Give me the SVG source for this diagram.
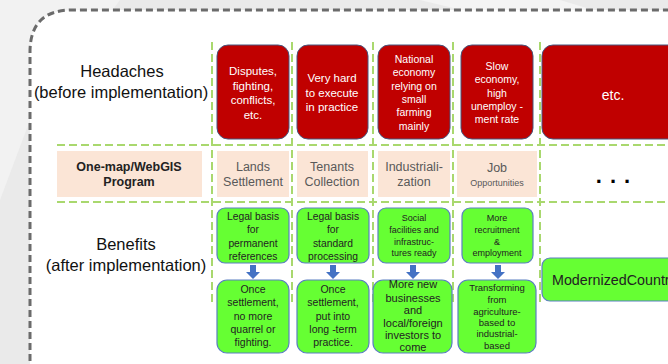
<svg xmlns="http://www.w3.org/2000/svg" width="668" height="364" viewBox="0 0 668 364">
<defs>
<style>
.bg{fill:#eaeaea}
.frame{fill:#ffffff;stroke:#6b6b6b;stroke-width:3;stroke-dasharray:7,4}
.grid{stroke:#a9d86e;stroke-width:2;stroke-dasharray:8,4;fill:none}
.red{fill:#c00000;stroke:#46567e;stroke-width:1}
.pink{fill:#fbe5d6}
.green{fill:#66ff33;stroke:#5b7fc1;stroke-width:1.2}
.arrow{fill:#4472c4}
text{font-family:"Liberation Sans","Open Sans",Arial,sans-serif;text-anchor:middle}
.wt{fill:#ffffff;font-size:11.5px}
.lbl{fill:#111;font-size:16.5px}
.pt{fill:#595959;font-size:12.5px}
.gt{fill:#222;font-size:10.3px}
</style>
</defs>
<rect class="bg" x="0" y="0" width="668" height="364"/>
<polygon points="0,0 120,0 30,120 0,200" fill="#f2f2f2"/>
<polygon points="420,0 560,0 600,12 470,12" fill="#f4f4f4"/>
<path class="frame" d="M30,372 V52 Q30,10 72,10 H680 V372 Z"/>

<g id="grid">
<line class="grid" x1="57" y1="145" x2="668" y2="145"/>
<line class="grid" x1="57" y1="202" x2="668" y2="202"/>
<line class="grid" x1="212" y1="42" x2="212" y2="305"/>
<line class="grid" x1="292" y1="42" x2="292" y2="305"/>
<line class="grid" x1="373" y1="42" x2="373" y2="305"/>
<line class="grid" x1="453" y1="42" x2="453" y2="305"/>
<line class="grid" x1="540" y1="42" x2="540" y2="305"/>
</g>

<g id="labels">
<text class="lbl" x="122" y="77">Headaches</text>
<text class="lbl" x="121" y="98">(before implementation)</text>
<text class="lbl" x="126" y="250">Benefits</text>
<text class="lbl" x="126" y="271">(after implementation)</text>
</g>

<g id="h1"><rect class="red" x="217" y="45" width="72" height="94" rx="11"/>
<text class="wt"><tspan x="253" y="75">Disputes,</tspan><tspan x="253" y="90">fighting,</tspan><tspan x="253" y="104">conflicts,</tspan><tspan x="253" y="119">etc.</tspan></text></g>
<g id="h2"><rect class="red" x="297" y="45" width="71" height="94" rx="11"/>
<text class="wt"><tspan x="332" y="82">Very hard</tspan><tspan x="332" y="97">to execute</tspan><tspan x="332" y="111">in practice</tspan></text></g>
<g id="h3"><rect class="red" x="378" y="45" width="72" height="94" rx="11"/>
<text class="wt" style="font-size:10.5px"><tspan x="414" y="63">National</tspan><tspan x="414" y="76">economy</tspan><tspan x="414" y="90">relying on</tspan><tspan x="414" y="103">small</tspan><tspan x="414" y="116">farming</tspan><tspan x="414" y="130">mainly</tspan></text></g>
<g id="h4"><rect class="red" x="461" y="45" width="72" height="94" rx="11"/>
<text class="wt" style="font-size:10.5px"><tspan x="497" y="70">Slow</tspan><tspan x="497" y="83">economy,</tspan><tspan x="497" y="97">high</tspan><tspan x="497" y="110">unemploy -</tspan><tspan x="497" y="123">ment rate</tspan></text></g>
<g id="h5"><rect class="red" x="542" y="45" width="150" height="94" rx="11"/>
<text class="wt" style="font-size:14px" x="613" y="100">etc.</text></g>

<g id="p0"><rect class="pink" x="57" y="151" width="145" height="46"/>
<text style="font-size:12.5px;font-weight:bold;fill:#222"><tspan x="129" y="171">One-map/WebGIS</tspan><tspan x="129" y="186">Program</tspan></text></g>
<g id="p1"><rect class="pink" x="217" y="151" width="72" height="46"/>
<text class="pt"><tspan x="253" y="171">Lands</tspan><tspan x="253" y="186">Settlement</tspan></text></g>
<g id="p2"><rect class="pink" x="297" y="151" width="71" height="46"/>
<text class="pt"><tspan x="332" y="171">Tenants</tspan><tspan x="332" y="186">Collection</tspan></text></g>
<g id="p3"><rect class="pink" x="378" y="151" width="72" height="46"/>
<text class="pt"><tspan x="414" y="171">Industriali-</tspan><tspan x="414" y="186">zation</tspan></text></g>
<g id="p4"><rect class="pink" x="457" y="151" width="80" height="46"/>
<text class="pt"><tspan x="497" y="172">Job</tspan><tspan x="497" y="186" style="font-size:9px">Opportunities</tspan></text></g>
<g id="p5"><text style="font-size:22px;font-weight:bold;fill:#000;letter-spacing:8px" x="617" y="183">...</text></g>

<g id="b1"><rect class="green" x="217" y="208" width="72" height="55" rx="8"/>
<text class="gt"><tspan x="253" y="220">Legal basis</tspan><tspan x="253" y="233">for</tspan><tspan x="253" y="247">permanent</tspan><tspan x="253" y="260">references</tspan></text></g>
<g id="b2"><rect class="green" x="297" y="208" width="72" height="55" rx="8"/>
<text class="gt"><tspan x="333" y="220">Legal basis</tspan><tspan x="333" y="233">for</tspan><tspan x="333" y="247">standard</tspan><tspan x="333" y="260">processing</tspan></text></g>
<g id="b3"><rect class="green" x="378" y="208" width="72" height="55" rx="8"/>
<text class="gt" style="font-size:9px"><tspan x="414" y="221">Social</tspan><tspan x="414" y="233">facilities and</tspan><tspan x="414" y="245">infrastruc-</tspan><tspan x="414" y="256">tures ready</tspan></text></g>
<g id="b4"><rect class="green" x="462" y="208" width="71" height="55" rx="8"/>
<text class="gt" style="font-size:9px"><tspan x="497" y="221">More</tspan><tspan x="497" y="233">recruitment</tspan><tspan x="497" y="245">&amp;</tspan><tspan x="497" y="256">employment</tspan></text></g>

<g id="c1"><rect class="green" x="217" y="280" width="72" height="73" rx="10"/>
<text class="gt" style="font-size:10.5px"><tspan x="253" y="293">Once</tspan><tspan x="253" y="306">settlement,</tspan><tspan x="253" y="320">no more</tspan><tspan x="253" y="333">quarrel or</tspan><tspan x="253" y="346">fighting.</tspan></text></g>
<g id="c2"><rect class="green" x="297" y="280" width="72" height="73" rx="10"/>
<text class="gt" style="font-size:10.5px"><tspan x="333" y="293">Once</tspan><tspan x="333" y="306">settlement,</tspan><tspan x="333" y="320">put into</tspan><tspan x="333" y="333">long -term</tspan><tspan x="333" y="346">practice.</tspan></text></g>
<g id="c3"><rect class="green" x="373" y="280" width="79" height="73" rx="10"/>
<text class="gt" style="font-size:11px"><tspan x="413" y="288">More new</tspan><tspan x="413" y="302">businesses</tspan><tspan x="413" y="314">and</tspan><tspan x="413" y="327">local/foreign</tspan><tspan x="413" y="339">investors to</tspan><tspan x="413" y="351">come</tspan></text></g>
<g id="c4"><rect class="green" x="458" y="280" width="78" height="73" rx="10"/>
<text class="gt" style="font-size:9.5px"><tspan x="497" y="291">Transforming</tspan><tspan x="497" y="303">from</tspan><tspan x="497" y="315">agriculture-</tspan><tspan x="497" y="326">based to</tspan><tspan x="497" y="337">industrial-</tspan><tspan x="497" y="349">based</tspan></text></g>
<g id="m"><rect class="green" x="542" y="258" width="150" height="43" rx="8"/>
<text style="font-size:14.3px;fill:#222;text-anchor:start" x="552" y="285">ModernizedCountry</text></g>

<g id="connectors">
<path class="arrow" d="M250,265 h6 v7 h4 l-7,7 l-7,-7 h4 z"/>
<path class="arrow" d="M330,265 h6 v7 h4 l-7,7 l-7,-7 h4 z"/>
<path class="arrow" d="M410,265 h6 v7 h4 l-7,7 l-7,-7 h4 z"/>
<path class="arrow" d="M495,265 h6 v7 h4 l-7,7 l-7,-7 h4 z"/>
</g>
</svg>
